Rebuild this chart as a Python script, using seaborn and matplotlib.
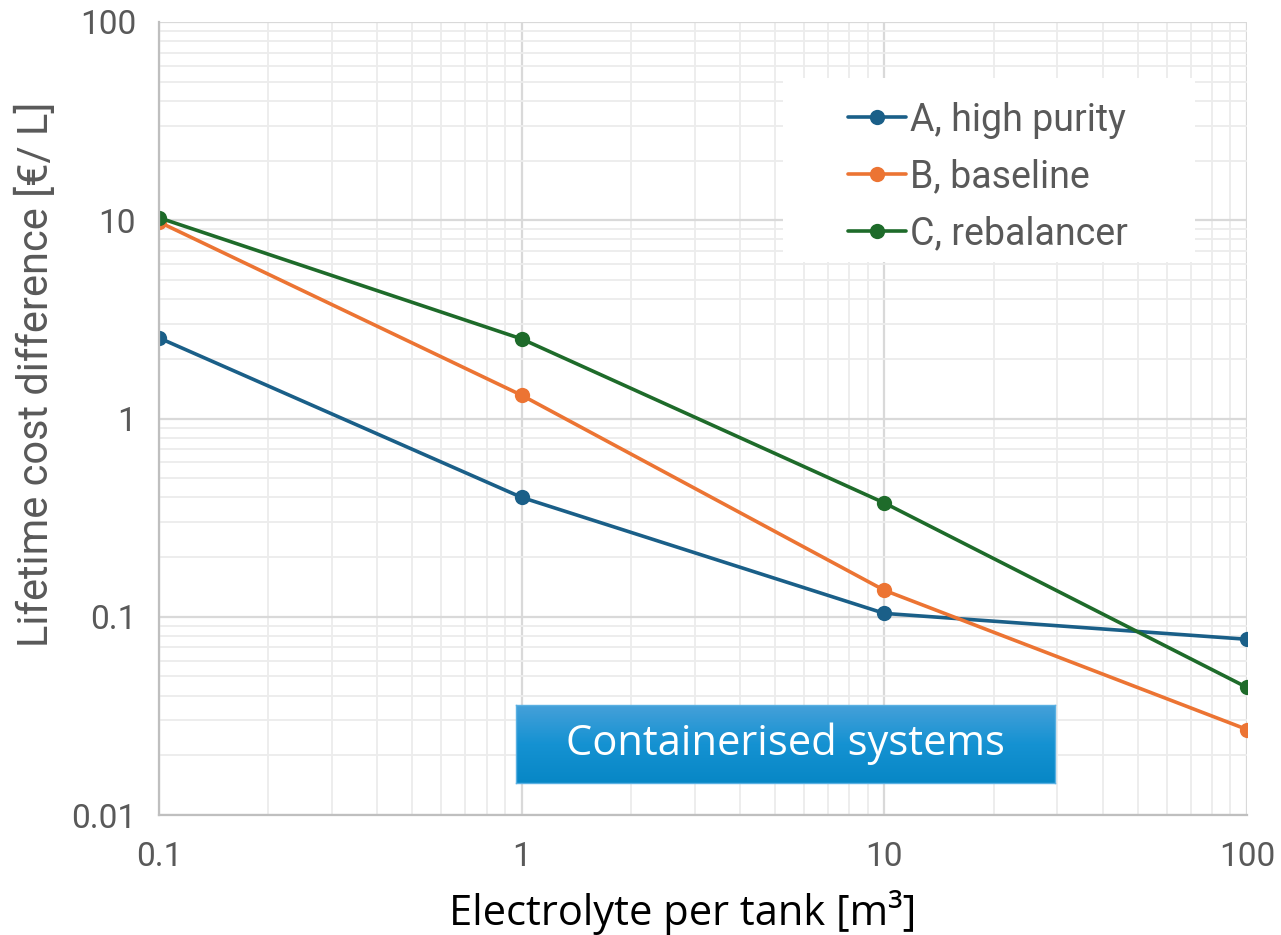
import numpy as np
import pandas as pd
import matplotlib
matplotlib.use('Agg')
import matplotlib.pyplot as plt
from matplotlib.ticker import LogLocator, FixedFormatter, FixedLocator, NullFormatter
from matplotlib.colors import LinearSegmentedColormap
from matplotlib.patches import Rectangle
import seaborn as sns

# data
volumes = [0.1, 1, 10, 100]
cost_a = [2.55, 0.40, 0.104, 0.077]
cost_b = [9.8, 1.31, 0.136, 0.027]
cost_c = [10.3, 2.52, 0.375, 0.044]
series_names = ['A, high purity', 'B, baseline', 'C, rebalancer']
colors = ['#1a5f88', '#ec7433', '#1e6b2a']

x_ticks = [0.1, 1, 10, 100]
x_labels = ['0.1', '1', '10', '100']
y_ticks = [0.01, 0.1, 1, 10, 100]
y_labels = ['0.01', '0.1', '1', '10', '100']

df = pd.DataFrame({
    'volume': volumes * 3,
    'cost': cost_a + cost_b + cost_c,
    'config': [series_names[0]] * 4 + [series_names[1]] * 4 + [series_names[2]] * 4,
})

sns.set_style('white')
plt.rcParams['font.family'] = ['Roboto', 'DejaVu Sans']

fig = plt.figure(figsize=(12.81, 9.35), dpi=100)
ax = fig.add_axes([0.1241, 0.1283, 0.8494, 0.8482])

sns.lineplot(data=df, x='volume', y='cost', hue='config', palette=colors,
             marker='o', markersize=11, markeredgewidth=0, linewidth=2.6, ax=ax)

ax.set_xscale('log')
ax.set_yscale('log')
ax.set_xlim(0.1, 100)
ax.set_ylim(0.01, 100)

ax.xaxis.set_major_locator(FixedLocator(x_ticks))
ax.xaxis.set_major_formatter(FixedFormatter(x_labels))
ax.yaxis.set_major_locator(FixedLocator(y_ticks))
ax.yaxis.set_major_formatter(FixedFormatter(y_labels))
ax.xaxis.set_minor_locator(LogLocator(base=10, subs=np.arange(2, 10), numticks=20))
ax.yaxis.set_minor_locator(LogLocator(base=10, subs=np.arange(2, 10), numticks=20))
ax.xaxis.set_minor_formatter(NullFormatter())
ax.yaxis.set_minor_formatter(NullFormatter())

ax.grid(which='major', color='#d9d9d9', linewidth=1.6)
ax.grid(which='minor', color='#ececec', linewidth=1.3)
ax.set_axisbelow(True)

for side in ['top', 'right']:
    ax.spines[side].set_visible(False)
for side in ['left', 'bottom']:
    ax.spines[side].set_color('#bfbfbf')
    ax.spines[side].set_linewidth(1.6)

ax.tick_params(axis='both', which='major', direction='inout', length=13, width=1.6,
               color='#bfbfbf', labelsize=24, labelcolor='#595959', pad=10)
ax.tick_params(axis='y', which='minor', direction='inout', length=11, width=1.3, color='#bfbfbf')
ax.tick_params(axis='x', which='minor', length=0)
ax.tick_params(axis='x', which='major', pad=12)

ax.set_ylabel('Lifetime cost difference [€/ L]', fontsize=30, color='#595959')
ax.yaxis.set_label_coords(-0.094, 0.556)
ax.set_xlabel('Electrolyte per tank [m³]', fontsize=30, color='black',
              family=['Open Sans', 'DejaVu Sans'])
ax.xaxis.set_label_coords(0.4816, -0.095)

# white legend panel, then a frameless legend on top
ax.add_patch(Rectangle((0.5735, 0.6974), 0.3787, 0.232, transform=ax.transAxes,
                       facecolor='white', edgecolor='none', zorder=4))
leg = ax.legend(loc='upper left', bbox_to_anchor=(0.633, 0.8997), frameon=False,
                fontsize=27, labelcolor='#595959', borderpad=0, labelspacing=0.53,
                handlelength=1.55, handletextpad=0.12, borderaxespad=0)
leg.set_zorder(5)

# blue label box with a vertical gradient
box_ax = fig.add_axes([516 / 1281, 1 - 783 / 935, 539 / 1281, 78 / 935])
grad = np.linspace(0, 1, 100).reshape(-1, 1)
box_cmap = LinearSegmentedColormap.from_list('box', ['#45a0d9', '#1592d2', '#0787c6'])
box_ax.imshow(grad, aspect='auto', cmap=box_cmap, extent=[0, 1, 0, 1], origin='upper')
box_ax.set_xticks([])
box_ax.set_yticks([])
for s in box_ax.spines.values():
    s.set_color('#5ab0e2')
    s.set_linewidth(1)
box_ax.text(0.5, 0.5, 'Containerised systems', ha='center', va='center', fontsize=30,
            color='white', family=['Open Sans', 'DejaVu Sans'], transform=box_ax.transAxes)

fig.savefig('out.png', dpi=100)
